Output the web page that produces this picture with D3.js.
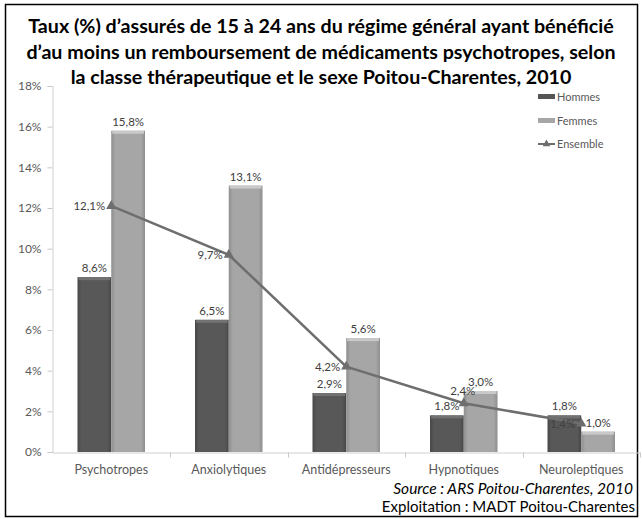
<!DOCTYPE html>
<html>
    <head>
        <meta charset="utf-8">
        <title>Psychotropes 15-24 ans</title>
        <script src="https://d3js.org/d3.v7.min.js"></script>
        <style>
            body { margin: 0; background: #fff; }
            svg text { font-family: Lato, "Open Sans", sans-serif; }
        </style>
    </head>
    <body>
       <div id="svgcontainer"></div>
       <script>
            var width = 642;
            var height = 519;

            var categories = ["Psychotropes", "Anxiolytiques", "Antidépresseurs", "Hypnotiques", "Neuroleptiques"];
            var hommes = [8.6, 6.5, 2.9, 1.8, 1.8];
            var femmes = [15.8, 13.1, 5.6, 3.0, 1.0];
            var ensemble = [12.1, 9.7, 4.2, 2.4, 1.4];
            var yTicks = [0, 2, 4, 6, 8, 10, 12, 14, 16, 18];
            // where the Ensemble label sits next to its marker
            var ensembleLabelPos = ["left", "left", "left", "above", "left"];
            var titleLines = [
                "Taux (%) d’assurés de 15 à 24 ans du régime général ayant bénéficié",
                "d’au moins un remboursement de médicaments psychotropes, selon",
                "la classe thérapeutique et le sexe Poitou-Charentes, 2010"
            ];
            var legendItems = ["Hommes", "Femmes", "Ensemble"];

            var fmt = function(v) { return d3.format(".1f")(v).replace(".", ",") + "%"; };

            var svg = d3.select("#svgcontainer")
                .append("svg")
                .attr("width", width)
                .attr("height", height);

            var defs = svg.append("defs");
            function grad(id, edge, mid) {
                var g = defs.append("linearGradient").attr("id", id)
                    .attr("x1", "0%").attr("x2", "100%").attr("y1", "0%").attr("y2", "0%");
                g.append("stop").attr("offset", "0%").attr("stop-color", edge);
                g.append("stop").attr("offset", "12%").attr("stop-color", mid);
                g.append("stop").attr("offset", "88%").attr("stop-color", mid);
                g.append("stop").attr("offset", "100%").attr("stop-color", edge);
            }
            grad("gH", "#474747", "#585858");
            grad("gF", "#8e8e8e", "#a6a6a6");

            // outer frame
            svg.append("rect")
                .attr("x", 5.5).attr("y", 4.5)
                .attr("width", 632).attr("height", 512)
                .attr("fill", "none").attr("stroke", "#000").attr("stroke-width", 1.5);

            // title, fitted to the width of the first line
            var tl = svg.append("g").selectAll("text").data(titleLines).enter().append("text")
                .attr("x", 321)
                .attr("y", function(d, i) { return 33 + i * 25.5; })
                .attr("text-anchor", "middle")
                .attr("font-weight", "bold")
                .attr("font-size", 19)
                .attr("fill", "#000")
                .text(function(d) { return d; });
            var w0 = tl.node().getComputedTextLength();
            tl.attr("font-size", 19 * 586 / w0);

            var y = d3.scaleLinear().domain([0, 18]).range([452, 86]);
            var x = d3.scaleBand().domain(categories).range([52.5, 640]).padding(0);
            var x1 = d3.scaleBand().domain(["Hommes", "Femmes"])
                .range([25, x.bandwidth() - 25]).padding(0);

            // y axis
            var yAxis = svg.append("g")
                .attr("transform", "translate(52.5,0)")
                .call(d3.axisLeft(y).tickValues(yTicks).tickSize(5).tickPadding(6)
                    .tickFormat(function(d) { return d + "%"; }));
            yAxis.select(".domain").attr("stroke", "#d0d0d0");
            yAxis.selectAll(".tick line").attr("stroke", "#c8c8c8");
            yAxis.selectAll(".tick text").attr("fill", "#595959").attr("font-size", 12)
                .style("font-family", "Lato, sans-serif");

            // x axis
            var xAxis = svg.append("g")
                .attr("transform", "translate(0,452.5)")
                .call(d3.axisBottom(x).tickSize(0).tickPadding(13));
            xAxis.select(".domain").attr("stroke", "#d0d0d0");
            xAxis.selectAll(".tick text").attr("fill", "#595959").attr("font-size", 12.5)
                .style("font-family", "Lato, sans-serif");
            xAxis.selectAll(".sep")
                .data(categories.map(function(c) { return x(c); }).concat([x.range()[1]]).slice(1))
                .enter().append("line")
                .attr("x1", function(d) { return Math.round(d) + 0.5; })
                .attr("x2", function(d) { return Math.round(d) + 0.5; })
                .attr("y1", 0).attr("y2", 5)
                .attr("stroke", "#c8c8c8");

            // bars
            function drawBars(values, key, fill, cap) {
                var g = svg.append("g");
                categories.forEach(function(c, i) {
                    var bx = x(c) + x1(key);
                    var top = y(values[i]);
                    g.append("rect")
                        .attr("x", bx).attr("y", top)
                        .attr("width", x1.bandwidth())
                        .attr("height", y(0) - top)
                        .attr("fill", fill);
                    g.append("rect")
                        .attr("x", bx + 1).attr("y", top)
                        .attr("width", x1.bandwidth() - 2)
                        .attr("height", 3)
                        .attr("fill", cap);
                    svg.append("text")
                        .attr("x", bx + x1.bandwidth() / 2)
                        .attr("y", top - 5)
                        .attr("text-anchor", "middle")
                        .attr("font-size", 11.5)
                        .attr("fill", "#404040")
                        .text(fmt(values[i]));
                });
            }
            drawBars(hommes, "Hommes", "url(#gH)", "#727272");
            drawBars(femmes, "Femmes", "url(#gF)", "#c9c9c9");

            // ensemble line
            var cx = function(i) { return x(categories[i]) + x.bandwidth() / 2; };
            var line = d3.line()
                .x(function(d, i) { return cx(i); })
                .y(function(d) { return y(d); });
            svg.append("path")
                .datum(ensemble)
                .attr("d", line)
                .attr("fill", "none")
                .attr("stroke", "#6e6e6e")
                .attr("stroke-width", 2.5);
            svg.selectAll(".mk").data(ensemble).enter().append("path")
                .attr("d", d3.symbol(d3.symbolTriangle, 45))
                .attr("transform", function(d, i) { return "translate(" + cx(i) + "," + y(d) + ")"; })
                .attr("fill", "#6e6e6e");
            svg.selectAll(".elab").data(ensemble).enter().append("text")
                .attr("x", function(d, i) { return ensembleLabelPos[i] === "left" ? cx(i) - 6 : cx(i) - 1; })
                .attr("y", function(d, i) { return ensembleLabelPos[i] === "left" ? y(d) + 4 : y(d) - 8; })
                .attr("text-anchor", function(d, i) { return ensembleLabelPos[i] === "left" ? "end" : "middle"; })
                .attr("font-size", 11.5)
                .attr("fill", "#404040")
                .text(fmt);

            // legend
            var leg = svg.append("g").attr("transform", "translate(538,0)");
            var legY = [97, 121, 144];
            leg.append("rect").attr("x", 0).attr("y", legY[0] - 3).attr("width", 17).attr("height", 5).attr("fill", "#555");
            leg.append("rect").attr("x", 0).attr("y", legY[1] - 3).attr("width", 17).attr("height", 5).attr("fill", "#a6a6a6");
            leg.append("line").attr("x1", 0).attr("x2", 17).attr("y1", legY[2]).attr("y2", legY[2])
                .attr("stroke", "#6e6e6e").attr("stroke-width", 2);
            leg.append("path").attr("d", d3.symbol(d3.symbolTriangle, 25))
                .attr("transform", "translate(8.5," + legY[2] + ")").attr("fill", "#6e6e6e");
            leg.selectAll("text").data(legendItems).enter().append("text")
                .attr("x", 19)
                .attr("y", function(d, i) { return legY[i] + 4; })
                .attr("font-size", 11)
                .attr("fill", "#595959")
                .text(function(d) { return d; });

            // source
            svg.append("text")
                .attr("x", 633).attr("y", 494)
                .attr("text-anchor", "end")
                .attr("font-style", "italic")
                .attr("font-size", 15.5)
                .attr("fill", "#000")
                .text("Source : ARS Poitou-Charentes, 2010");
            svg.append("text")
                .attr("x", 635).attr("y", 512)
                .attr("text-anchor", "end")
                .attr("font-size", 15)
                .attr("fill", "#000")
                .text("Exploitation : MADT Poitou-Charentes");
       </script>
    </body>
</html>
